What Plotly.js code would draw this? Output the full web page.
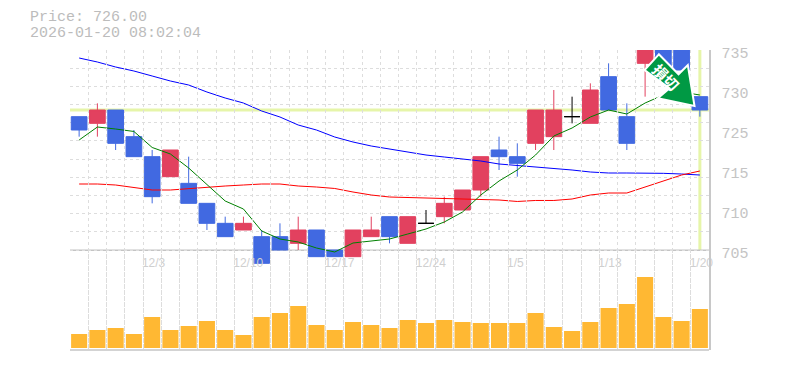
<!DOCTYPE html>
<html><head><meta charset="utf-8">
<script src="https://cdn.plot.ly/plotly-3.0.1.min.js"></script>
<style>html,body{margin:0;padding:0;background:#fff}#c{width:785px;height:370px}</style>
</head><body><div id="c"></div>
<script>
const open_ = [725,724,726,722,719,716,715,712,709,708,707,707,706,708,705,704,707,710,706,709,710,711,714,720,719,721,722,725,724,731,725,733,738,737,728];
const close_= [723,726,721,719,713,720,712,709,707,709,703,705,708,704,704,708,708,707,710,709,712,714,719,719,718,726,726,725,729,726,721,736,731,732,726];
const high_ = [725,727,726,723,720,720,719,712,710,710,708,709,710,708,705,708,710,710,710,711,713,714,719,722,721,726,729,728,730,733,727,736,738,737,728];
const low_  = [722,722,720,719,712,716,712,708,707,708,703,705,705,704,704,704,707,706,706,709,709,711,713,717,716,720,720,724,724,726,720,728,731,732,725];
const ma5   = [721.5,723.45,723.15,722.78,720.38,719.4,717.3,714.75,712.35,711.15,707.85,706.65,706.2,705.3,704.7,706.05,706.35,706.65,707.4,708.15,709.2,710.7,713.25,715.35,717,719.25,722.1,723.3,724.95,726,725.4,727.05,728.25,728.7,728.25];
const ma25  = [714.9,714.9,714.75,714.38,714,714,714.23,714.45,714.6,714.75,714.9,714.9,714.6,714.45,714.23,713.7,713.25,712.95,712.88,712.88,712.8,712.65,712.58,712.5,712.28,712.43,712.43,712.65,713.25,713.55,713.55,714.45,715.28,716.25,716.85];
const ma75  = [733.8,733.2,732.45,731.85,731.1,730.35,729.75,728.7,727.8,727.05,725.85,724.95,723.75,723,721.95,721.2,720.6,720.15,719.7,719.25,718.95,718.65,718.35,717.9,717.7,717.45,717.3,717,716.7,716.55,716.55,716.55,716.5,716.4,716.25];
const volume= [14,18,20,14,31,18,22,27,18,13,31,35,42,23,18,26,23,20,28,25,28,26,25,25,25,35,21,17,26,40,44,71,31,27,39];
const dateIdx = [4,9,14,19,24,29,34];
const dateLabels = ["12/3","12/10","12/17","12/24","1/5","1/13","1/20"];
const priceLabels = ["735","730","725","715","710","705"];
const priceLabelVals = [735,729,723,717,711,705];
const lastPrice = 726;
const headerLines = ["Price: 726.00","2026-01-20 08:02:04"];
const arrowLabel = "損切";

const W=785,H=370,L=70,R=709.5,T=50,B=350;
const px=x=>(x-L)/(R-L), py=y=>(B-y)/(B-T);
const idx=open_.map((_,i)=>i);
const isDoji=i=>open_[i]===close_[i];
const normal=idx.filter(i=>!isDoji(i)), doji=idx.filter(isDoji);
const pick=(a,s)=>s.map(i=>a[i]);
const BLUE='#4169e1',RED='#e2415f',ORANGE='#ffb833';
const line=(y,c)=>({type:'scatter',mode:'lines',x:idx,y:y,xaxis:'x',yaxis:'y',line:{color:c,width:1},hoverinfo:'skip'});
const candle=(s,up,dn)=>({type:'candlestick',x:s,open:pick(open_,s),close:pick(close_,s),high:pick(high_,s),low:pick(low_,s),xaxis:'x',yaxis:'y',whiskerwidth:0,
  increasing:{line:{color:up,width:1},fillcolor:up},decreasing:{line:{color:dn,width:1},fillcolor:dn},hoverinfo:'skip'});
const traces=[
 {type:'bar',x:idx,y:volume,xaxis:'x',yaxis:'y2',marker:{color:ORANGE,line:{width:0}},hoverinfo:'skip'},
 line(ma75,'#0000ff'),line(ma25,'#ff0000'),line(ma5,'#008000'),
 candle(normal,RED,BLUE),candle(doji,'#000','#000')
];
const gridY=[];for(let k=0;k<=11;k++)gridY.push(705+k*30/11);
const gridX=[];for(let k=0;k<=34;k++)gridX.push(k-0.5);
const arrow=[[659.3,54.3],[645,70],[670,88.3],[658.3,98.3],[695,106],[688.3,65],[679,74.3]];
const arrowPath='M'+arrow.map(p=>px(p[0])+','+py(p[1])).join('L')+'Z';
const tickFont={family:'Liberation Sans',size:12,color:'#cfcfcf'};
const layout={
 width:W,height:H,margin:{l:L,r:W-R,t:T,b:H-B,pad:0},paper_bgcolor:'#fff',plot_bgcolor:'rgba(0,0,0,0)',
 showlegend:false,bargap:0.12,boxgap:0.14,boxgroupgap:0,
 xaxis:{domain:[0,1],range:[-0.5,34.5],anchor:'y3',tickmode:'array',tickvals:gridX,showticklabels:false,ticks:'',showgrid:true,griddash:'3px,3px',gridcolor:'#dddddd',gridwidth:1,zeroline:false,showline:false,rangeslider:{visible:false},fixedrange:true},
 xaxis2:{overlaying:'x',range:[-0.5,34.5],anchor:'free',position:(B-250)/(B-T),side:'bottom',tickmode:'array',tickvals:dateIdx.map(i=>i-0.56),ticktext:dateLabels,tickfont:tickFont,ticks:'',ticklabelposition:'outside right',showgrid:false,zeroline:false,showline:false,layer:'below traces',ticklabelstandoff:4,fixedrange:true},
 yaxis:{domain:[(B-270)/(B-T),1],range:[702,735],anchor:'x',tickmode:'array',tickvals:gridY,showticklabels:false,ticks:'',showgrid:true,griddash:'3px,3px',gridcolor:'#dddddd',gridwidth:1,zeroline:false,showline:false,fixedrange:true},
 yaxis2:{domain:[0,(B-250)/(B-T)],range:[-2,98],anchor:'x',showticklabels:false,ticks:'',showgrid:false,zeroline:false,showline:false,fixedrange:true},
 yaxis3:{domain:[0,1],range:[690.45,735.45],anchor:'x',side:'right',tickmode:'array',tickvals:priceLabelVals,ticktext:priceLabels,ticks:'',
  tickfont:{family:'Liberation Mono',size:15,color:'#c4c4c4'},showgrid:false,zeroline:false,showline:true,linecolor:'#c8c8c8',linewidth:1.5,ticklabelstandoff:8,fixedrange:true},
 shapes:[
  {type:'line',layer:'below',xref:'x',yref:'y',x0:-0.5,x1:34.5,y0:lastPrice,y1:lastPrice,line:{color:'#e6f5a9',width:3}},
  {type:'line',layer:'below',xref:'x',yref:'paper',x0:34,x1:34,y0:py(250),y1:1,line:{color:'#e6f5a9',width:3}},
  {type:'line',layer:'below',xref:'paper',yref:'paper',x0:0,x1:1,y0:py(250.3),y1:py(250.3),line:{color:'#c4c4c4',width:1.5}},
  {type:'line',layer:'below',xref:'paper',yref:'paper',x0:0,x1:1,y0:py(350),y1:py(350),line:{color:'#c4c4c4',width:1.5}},
  {type:'path',layer:'above',xref:'paper',yref:'paper',path:arrowPath,fillcolor:'#009944',line:{color:'#ffffff',width:2}}
 ],
 annotations:[
  {xref:'paper',yref:'paper',x:px(28),y:py(17.5),xanchor:'left',yanchor:'middle',showarrow:false,text:headerLines[0],height:14,font:{family:'Liberation Mono',size:15,color:'#bcbcbc'}},
  {xref:'paper',yref:'paper',x:px(28),y:py(32.5),xanchor:'left',yanchor:'middle',showarrow:false,text:headerLines[1],height:14,font:{family:'Liberation Mono',size:15,color:'#bcbcbc'}},
  {xref:'paper',yref:'paper',x:px(666),y:py(77),xanchor:'center',yanchor:'middle',showarrow:false,textangle:45,text:arrowLabel,font:{family:'Noto Sans CJK JP',size:15,color:'#ffffff',weight:700}}
 ]
};
traces.push({type:'scatter',x:[dateIdx[0]],y:[0],xaxis:'x2',yaxis:'y2',mode:'none',hoverinfo:'skip',showlegend:false});
traces.push({type:'scatter',x:[0],y:[priceLabelVals[0]],xaxis:'x',yaxis:'y3',mode:'none',hoverinfo:'skip',showlegend:false});
Plotly.newPlot('c',traces,layout,{staticPlot:true,displayModeBar:false});
</script></body></html>
